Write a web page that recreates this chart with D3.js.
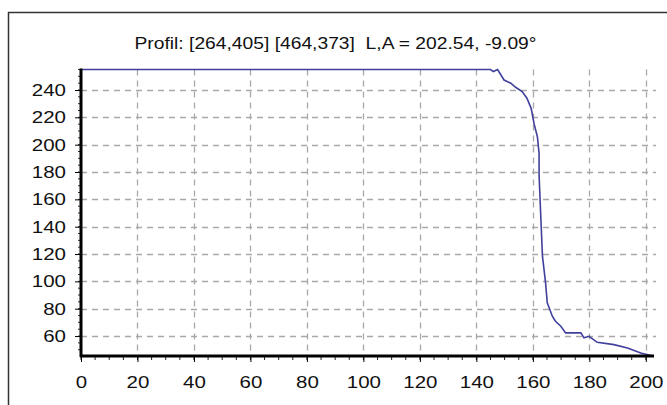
<!DOCTYPE html>
<html><head><meta charset="utf-8">
<script src="https://cdn.jsdelivr.net/npm/d3@7"></script>
<style>body{margin:0;background:#fff;}svg{display:block;font-family:"Liberation Sans",Arial,sans-serif;}</style>
</head><body>
<svg id="c" width="667" height="405"></svg>
<script>
const titleText = "Profil: [264,405] [464,373]  L,A = 202.54, -9.09°";
const xTicks = [0,20,40,60,80,100,120,140,160,180,200];
const yTicks = [60,80,100,120,140,160,180,200,220,240];
const profileX = [0, 145, 146, 147.5, 149.8, 152.2, 153.9, 156.2, 157.9, 159.4, 160.4, 161.6, 162.2, 162.2, 162.8, 163.4, 164.5, 165.1, 166.9, 168, 169.9, 171.6, 177, 178.1, 179.9, 182.8, 188.7, 193.5, 198.2, 202.54];
const profileY = [255, 255, 253.5, 255, 247.3, 245, 242, 238.8, 234, 226.6, 215.6, 205.8, 193.7, 177.8, 147.7, 118.4, 98.9, 84.3, 74.5, 70.8, 67.2, 62.3, 62.3, 58.7, 59.8, 55.4, 53.7, 51.2, 47.6, 45.4];
const xDomain = [0, 202.54];
const yDomain = [45.4, 255];

const svg = d3.select("#c");
const L = 81, R = 653, T = 69.5, B = 356;
const x = d3.scaleLinear().domain(xDomain).range([L, R]);
const y = d3.scaleLinear().domain(yDomain).range([B, T]);
const FS = 17, DIGW = 11.4;

// outer frame
svg.append("line").attr("x1",8).attr("x2",667).attr("y1",12.5).attr("y2",12.5).attr("stroke","#333").attr("stroke-width",1.5);
svg.append("line").attr("x1",8.5).attr("x2",8.5).attr("y1",12).attr("y2",405).attr("stroke","#333").attr("stroke-width",1.5);

// title
svg.append("text").attr("x",335.5).attr("y",49.3).attr("text-anchor","middle").attr("font-size",FS).attr("fill","#111")
  .style("white-space","pre")
  .attr("textLength",402).attr("lengthAdjust","spacingAndGlyphs").text(titleText);

// grid
const g = svg.append("g");
g.selectAll(".vg").data(xTicks.filter(d=>d>0)).join("line")
  .attr("x1",d=>Math.round(x(d))+0.5).attr("x2",d=>Math.round(x(d))+0.5)
  .attr("y1",T).attr("y2",B).attr("stroke","#a8a8a8").attr("stroke-width",1.3).attr("stroke-dasharray","6,5");
g.selectAll(".hg").data(yTicks).join("line")
  .attr("x1",L).attr("x2",R+3).attr("y1",d=>Math.round(y(d))+0.5).attr("y2",d=>Math.round(y(d))+0.5)
  .attr("stroke","#a8a8a8").attr("stroke-width",1.3).attr("stroke-dasharray","6,5");

// data line
const line = d3.line().x((d,i)=>x(profileX[i])).y((d,i)=>y(profileY[i]));
svg.append("path").datum(profileY).attr("d",line).attr("fill","none").attr("stroke","#40409c").attr("stroke-width",1.6);

function styleLabels(sel){
  sel.selectAll("text").attr("font-size",FS).attr("font-family","Liberation Sans, Arial, sans-serif").attr("fill","#111")
    .attr("textLength",function(){return this.textContent.length*DIGW;}).attr("lengthAdjust","spacingAndGlyphs");
}

// x axis
const xMinor = d3.range(0, 205, 5);
const xAxis = d3.axisBottom(x).tickValues(xTicks).tickSize(6).tickPadding(14).tickFormat(d3.format("d"));
const xa = svg.append("g").attr("transform",`translate(0,${B})`);
xa.selectAll(".mn").data(xMinor).join("line").attr("x1",d=>x(d)).attr("x2",d=>x(d)).attr("y1",0).attr("y2",4).attr("stroke","#222").attr("stroke-width",1);
xa.call(xAxis);
xa.select(".domain").remove();
xa.selectAll(".tick line").attr("stroke","#000");
styleLabels(xa);
svg.append("line").attr("x1",L-1).attr("x2",R+1).attr("y1",B).attr("y2",B).attr("stroke","#000").attr("stroke-width",3);

// y axis
const yMinor = d3.range(50, 256, 5);
const yAxis = d3.axisLeft(y).tickValues(yTicks).tickSize(6).tickPadding(9).tickFormat(d3.format("d"));
const ya = svg.append("g").attr("transform",`translate(${L},0)`);
ya.selectAll(".mn").data(yMinor).join("line").attr("x1",-3).attr("x2",0).attr("y1",d=>y(d)).attr("y2",d=>y(d)).attr("stroke","#333").attr("stroke-width",1);
ya.call(yAxis);
ya.select(".domain").remove();
ya.selectAll(".tick line").attr("stroke","#000");
styleLabels(ya);
svg.append("line").attr("x1",L).attr("x2",L).attr("y1",T-1).attr("y2",B+1).attr("stroke","#000").attr("stroke-width",3);
</script>
</body></html>
